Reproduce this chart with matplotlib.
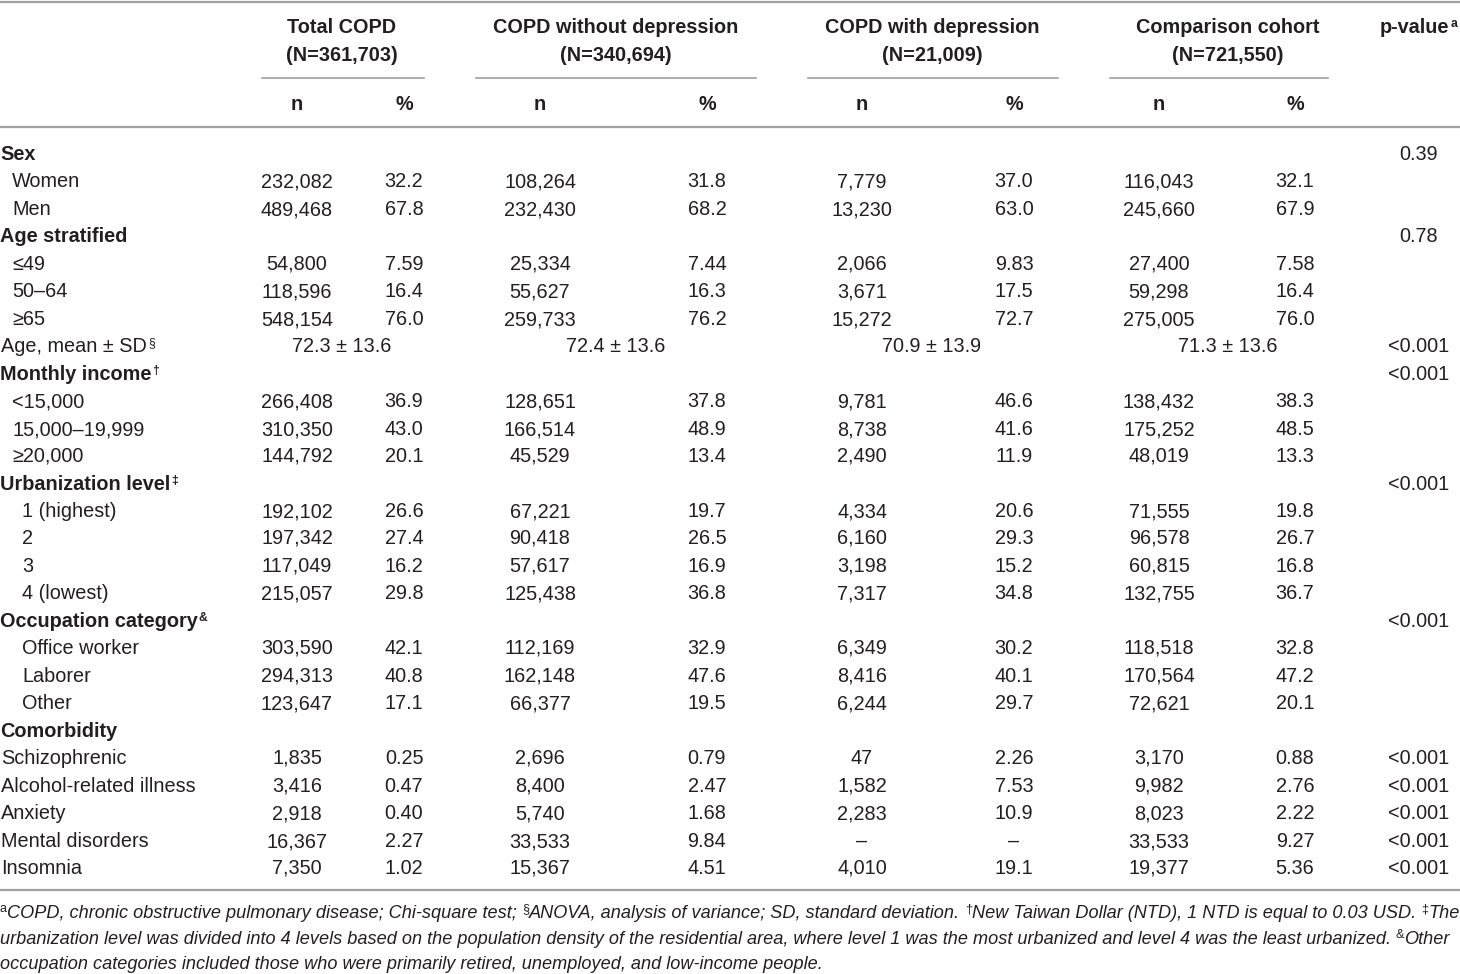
import matplotlib
matplotlib.use("Agg")
import matplotlib.pyplot as plt

plt.rcParams["font.family"] = ["Liberation Sans", "DejaVu Sans"]

TXT = "#231f20"
LINE = "#a0a0a0"

groups = ["Total COPD", "COPD without depression", "COPD with depression", "Comparison cohort"]
group_n = ["(N=361,703)", "(N=340,694)", "(N=21,009)", "(N=721,550)"]

# (label, superscript, kind) kind: h = bold heading, i1/i2 = indented, p = plain
row_labels = [
    ("Sex", "", "h"), ("Women", "", "i1"), ("Men", "", "i1"),
    ("Age stratified", "", "h"), ("≤49", "", "i1"), ("50–64", "", "i1"), ("≥65", "", "i1"),
    ("Age, mean ± SD", "§", "p"),
    ("Monthly income", "†", "h"), ("<15,000", "", "i1"), ("15,000–19,999", "", "i1"), ("≥20,000", "", "i1"),
    ("Urbanization level", "‡", "h"), ("1 (highest)", "", "i2"), ("2", "", "i2"), ("3", "", "i2"),
    ("4 (lowest)", "", "i2"),
    ("Occupation category", "&", "h"), ("Office worker", "", "i2"), ("Laborer", "", "i2"), ("Other", "", "i2"),
    ("Comorbidity", "", "h"), ("Schizophrenic", "", "p"), ("Alcohol-related illness", "", "p"),
    ("Anxiety", "", "p"), ("Mental disorders", "", "p"), ("Insomnia", "", "p"),
]

total_n = ["", "232,082", "489,468", "", "54,800", "118,596", "548,154", "72.3 ± 13.6", "",
           "266,408", "310,350", "144,792", "", "192,102", "197,342", "117,049", "215,057", "",
           "303,590", "294,313", "123,647", "", "1,835", "3,416", "2,918", "16,367", "7,350"]
total_pct = ["", "32.2", "67.8", "", "7.59", "16.4", "76.0", "", "", "36.9", "43.0", "20.1", "",
             "26.6", "27.4", "16.2", "29.8", "", "42.1", "40.8", "17.1", "", "0.25", "0.47", "0.40",
             "2.27", "1.02"]
wo_n = ["", "108,264", "232,430", "", "25,334", "55,627", "259,733", "72.4 ± 13.6", "",
        "128,651", "166,514", "45,529", "", "67,221", "90,418", "57,617", "125,438", "",
        "112,169", "162,148", "66,377", "", "2,696", "8,400", "5,740", "33,533", "15,367"]
wo_pct = ["", "31.8", "68.2", "", "7.44", "16.3", "76.2", "", "", "37.8", "48.9", "13.4", "",
          "19.7", "26.5", "16.9", "36.8", "", "32.9", "47.6", "19.5", "", "0.79", "2.47", "1.68",
          "9.84", "4.51"]
wd_n = ["", "7,779", "13,230", "", "2,066", "3,671", "15,272", "70.9 ± 13.9", "",
        "9,781", "8,738", "2,490", "", "4,334", "6,160", "3,198", "7,317", "",
        "6,349", "8,416", "6,244", "", "47", "1,582", "2,283", "–", "4,010"]
wd_pct = ["", "37.0", "63.0", "", "9.83", "17.5", "72.7", "", "", "46.6", "41.6", "11.9", "",
          "20.6", "29.3", "15.2", "34.8", "", "30.2", "40.1", "29.7", "", "2.26", "7.53", "10.9",
          "–", "19.1"]
cmp_n = ["", "116,043", "245,660", "", "27,400", "59,298", "275,005", "71.3 ± 13.6", "",
         "138,432", "175,252", "48,019", "", "71,555", "96,578", "60,815", "132,755", "",
         "118,518", "170,564", "72,621", "", "3,170", "9,982", "8,023", "33,533", "19,377"]
cmp_pct = ["", "32.1", "67.9", "", "7.58", "16.4", "76.0", "", "", "38.3", "48.5", "13.3", "",
           "19.8", "26.7", "16.8", "36.7", "", "32.8", "47.2", "20.1", "", "0.88", "2.76", "2.22",
           "9.27", "5.36"]
p_values = ["0.39", "", "", "0.78", "", "", "", "<0.001", "<0.001", "", "", "", "<0.001", "", "",
            "", "", "<0.001", "", "", "", "", "<0.001", "<0.001", "<0.001", "<0.001", "<0.001"]

footnote = [
    [("a", "sup"), ("COPD, chronic obstructive pulmonary disease; Chi-square test; ", "it"), ("§", "sup"),
     ("ANOVA, analysis of variance; SD, standard deviation. ", "it"), ("†", "sup"),
     ("New Taiwan Dollar (NTD), 1 NTD is equal to 0.03 USD. ", "it"), ("‡", "sup"), ("The", "it")],
    [("urbanization level was divided into 4 levels based on the population density of the residential area, "
      "where level 1 was the most urbanized and level 4 was the least urbanized. ", "it"), ("&", "sup"),
     ("Other", "it")],
    [("occupation categories included those who were primarily retired, unemployed, and low-income people.", "it")],
]

W, H = 1460, 974
fig = plt.figure(figsize=(W / 100, H / 100), dpi=100)
ax = fig.add_axes([0, 0, 1, 1])
ax.set_xlim(0, W)
ax.set_ylim(H, 0)
ax.axis("off")
renderer = fig.canvas.get_renderer()

FS = 14.3
BASE = 7  # baseline offset from visual row centre, px
group_cx = [342, 616, 932, 1228]
n_cx = [297, 540, 862, 1159]
pct_cx = [404, 707, 1014, 1295]
seg = [(262, 424), (476, 756), (808, 1058), (1110, 1328)]
p_cx = 1419


def width_px(t):
    return t.get_window_extent(renderer).width


def put(x, y, s, ha="center", base=BASE, **kw):
    return ax.text(x, y + base, s, fontsize=kw.pop("fontsize", FS), ha=ha, va="baseline", color=TXT, **kw)


def sup_after(t, x, y, s, fs, weight="normal"):
    w = width_px(t)
    put(x + w + 1, y - 6, s, ha="left", fontsize=fs * 0.62, weight=weight)


# rules
ax.plot([0, W], [2, 2], color=LINE, lw=1.6)
ax.plot([0, W], [127, 127], color=LINE, lw=1.6)
ax.plot([0, W], [890, 890], color=LINE, lw=1.6)
for a, b in seg:
    ax.plot([a, b], [78, 78], color=LINE, lw=1.2)

# header
for g, nn, cx, ncx, pcx in zip(groups, group_n, group_cx, n_cx, pct_cx):
    put(cx, 26, g, weight="bold")
    put(cx, 54, nn, weight="bold")
    put(ncx, 103, "n", weight="bold")
    put(pcx, 103, "%", weight="bold")
t = put(1380, 26, "p-value", ha="left", weight="bold")
sup_after(t, 1380, 26, "a", FS, "bold")

# body
y0, dy = 153, (867 - 153) / 26
indent = {"h": 0, "p": 1, "i1": 12, "i2": 22}
cols_n = [total_n, wo_n, wd_n, cmp_n]
cols_pct = [total_pct, wo_pct, wd_pct, cmp_pct]
for i, (lab, sup, kind) in enumerate(row_labels):
    y = round(y0 + i * dy)
    x = indent[kind]
    wt = "bold" if kind == "h" else "normal"
    t = put(x, y, lab, ha="left", weight=wt)
    if sup:
        sup_after(t, x, y, sup, FS, wt)
    for k in range(4):
        nv, pv = cols_n[k][i], cols_pct[k][i]
        if nv and not pv and "±" in nv:
            put(group_cx[k], y, nv)
            continue
        if nv:
            put(n_cx[k], y, nv)
        if pv:
            put(pct_cx[k], y, pv)
    if p_values[i]:
        put(p_cx, y, p_values[i])

# footnote
FFS = 13.1
for j, pieces in enumerate(footnote):
    y = 912 + j * 25.5
    x = 0
    for s, st in pieces:
        if st == "sup":
            t = put(x, y - 6, s, ha="left", base=6, fontsize=FFS * 0.7)
        else:
            t = put(x, y, s, ha="left", base=6, fontsize=FFS, style="italic")
        x += width_px(t)

fig.savefig("out.png", dpi=100)
